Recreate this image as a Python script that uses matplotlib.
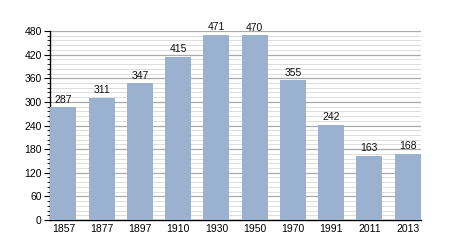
import matplotlib
matplotlib.use("Agg")
import matplotlib.pyplot as plt
from matplotlib.ticker import MultipleLocator

years = ["1857", "1877", "1897", "1910", "1930", "1950", "1970", "1991", "2011", "2013"]
population = [287, 311, 347, 415, 471, 470, 355, 242, 163, 168]

plt.rcParams['font.family'] = ['Liberation Sans', 'DejaVu Sans']
fig = plt.figure(figsize=(4.5, 2.5), dpi=100)
ax = fig.add_axes([50/450, 30/250, 371/450, 189/250])

x = list(range(len(years)))
ax.bar(x, population, width=0.68, color='#9ab2cf', zorder=3)
for xi, v in zip(x, population):
    ax.text(xi, v + 6, str(v), ha='center', va='bottom', fontsize=7.5, color='#111111', zorder=4)

ax.set_xlim(-0.35, len(years) - 0.65)
ax.set_ylim(0, 480)
ax.set_xticks(x)
ax.set_xticklabels(years)
ax.yaxis.set_major_locator(MultipleLocator(60))
ax.yaxis.set_minor_locator(MultipleLocator(12))
ax.grid(axis='y', which='major', color='#aaaaaa', linewidth=0.9, zorder=1)
ax.grid(axis='y', which='minor', color='#dddddd', linewidth=0.7, zorder=1)
for s in ['top', 'right']:
    ax.spines[s].set_visible(False)
ax.spines['left'].set_linewidth(1.0)
ax.spines['bottom'].set_linewidth(1.0)
ax.tick_params(axis='y', which='major', length=4, width=0.8, labelsize=7.5, pad=2)
ax.tick_params(axis='y', which='minor', length=2, width=0.6)
ax.tick_params(axis='x', length=0, labelsize=7.5, pad=3)

fig.savefig("out.png", dpi=100)
